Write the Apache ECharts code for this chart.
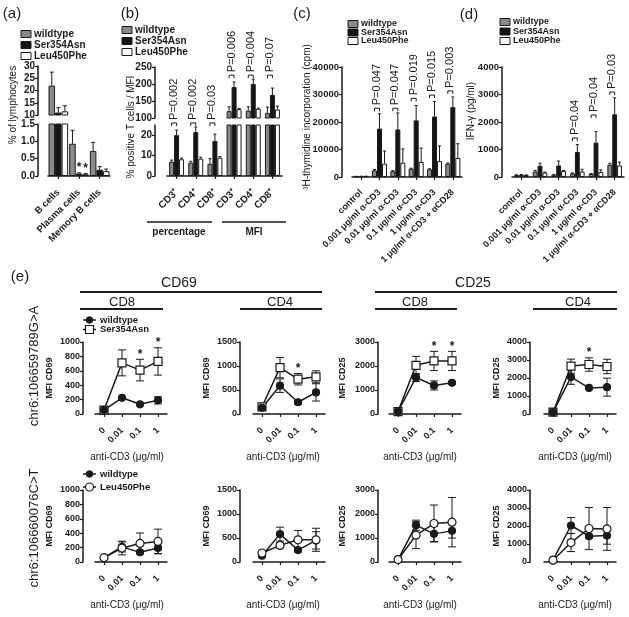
<!DOCTYPE html>
<html><head><meta charset="utf-8">
<script src="https://cdn.jsdelivr.net/npm/echarts@6/dist/echarts.min.js"></script>
<style>html,body{margin:0;padding:0;background:#fff}#c{width:629px;height:617px}</style>
</head><body><div id="c"></div>
<script>
// ---------- DATA ----------
const NAMES = ['wildtype', 'Ser354Asn', 'Leu450Phe'];
// (a)
const aCats = ['B cells', 'Plasma cells', 'Memory B cells'];
const aWt = [22, 0.93, 0.72],  aWtTop = [27.5, 1.32, 0.97];
const aSer = [11, 0.07, 0.18], aSerTop = [13, 0.09, 0.27];
const aLeu = [11.5, 0.05, 0.14], aLeuTop = [13.8, 0.07, 0.2];
// (b)
const bCats = ['CD3⁺', 'CD4⁺', 'CD8⁺', 'CD3⁺', 'CD4⁺', 'CD8⁺'];
const bWt = [7, 6.5, 6, 120, 122, 115],    bWtTop = [7.8, 7.2, 8.5, 133, 133, 132];
const bSer = [20, 21.5, 17.2, 191, 200, 168], bSerTop = [22.5, 24, 20.5, 206, 214, 188];
const bLeu = [8.2, 8.5, 9, 126, 127, 125], bLeuTop = [8.8, 9.2, 9.5, 128, 129, 135];
const bP = ['P=0.002', 'P=0.002', 'P=0.03', 'P=0.006', 'P=0.004', 'P=0.07'];
const bPY = [26, 26, 26, 226, 226, 226];
// (c)
const cdCats = ['control', '0.001 μg/ml α-CD3', '0.01 μg/ml α-CD3', '0.1 μg/ml α-CD3', '1 μg/ml α-CD3', '1 μg/ml α-CD3 + αCD28'];
const cWt = [250, 2400, 2100, 3000, 2800, 4850],      cWtTop = [250, 2700, 2300, 3200, 3000, 5100];
const cSer = [300, 17600, 17300, 20600, 22000, 25400], cSerTop = [300, 23000, 23300, 26000, 27500, 29100];
const cLeu = [300, 4850, 5200, 5450, 5800, 6900],     cLeuTop = [300, 9450, 10200, 10500, 11300, 12100];
const cPIdx = [1, 2, 3, 4, 5];
const cP = ['P=0.047', 'P=0.047', 'P=0.019', 'P=0.015', 'P=0.003'];
const cPY = [25000, 25000, 28600, 29800, 31300];
// (d)
const dWt = [70, 200, 85, 130, 110, 450],      dWtTop = [80, 240, 95, 150, 125, 500];
const dSer = [80, 410, 420, 910, 1250, 2280],  dSerTop = [90, 500, 580, 1180, 1650, 2880];
const dLeu = [70, 160, 220, 200, 180, 420],    dLeuTop = [75, 180, 240, 280, 260, 540];
const dPIdx = [3, 4, 5];
const dP = ['P=0.04', 'P=0.04', 'P=0.03'];
const dPY = [1420, 2255, 3090];
// (e)
const eDose = ['0', '0.01', '0.1', '1'];
const eMax = [1000, 1500, 3000, 4000];
const eStep = [200, 500, 1000, 1000];
const eTitles = ['MFI CD69', 'MFI CD69', 'MFI CD25', 'MFI CD25'];
// top row: wildtype vs Ser354Asn (mean, sem)
const t1Wt = [55, 225, 135, 190],     t1WtE = [10, 15, 15, 50],   t1Mu = [55, 710, 610, 730],     t1MuE = [15, 180, 150, 190];
const t2Wt = [130, 590, 245, 450],    t2WtE = [20, 140, 40, 180], t2Mu = [150, 965, 725, 775],    t2MuE = [30, 210, 120, 125];
const t3Wt = [100, 1520, 1190, 1300], t3WtE = [20, 170, 190, 50], t3Mu = [100, 2030, 2210, 2210], t3MuE = [30, 370, 400, 400];
const t4Wt = [100, 2050, 1450, 1490], t4WtE = [30, 400, 50, 500], t4Mu = [100, 2660, 2750, 2640], t4MuE = [30, 390, 370, 400];
const tStars = [[2, 3], [2], [2, 3], [2]];
// bottom row: wildtype vs Leu450Phe
const b1Wt = [60, 210, 134, 195],     b1WtE = [5, 70, 20, 80],     b1Mu = [60, 194, 258, 286],     b1MuE = [5, 95, 145, 170];
const b2Wt = [131, 581, 249, 450],    b2WtE = [20, 145, 40, 180],  b2Mu = [187, 346, 463, 463],    b2MuE = [20, 50, 195, 240];
const b3Wt = [100, 1534, 1172, 1297], b3WtE = [20, 210, 320, 300], b3Mu = [100, 1116, 1604, 1660], b3MuE = [20, 560, 770, 1030];
const b4Wt = [100, 2028, 1432, 1470], b4WtE = [20, 440, 100, 480], b4Mu = [100, 1079, 1860, 1840], b4MuE = [20, 500, 1170, 1190];

// ---------- STYLE / HELPERS ----------
const FF = 'Liberation Sans, Arial, sans-serif';
const INK = '#1a1a1a';
const FILL = ['#8a8a8a', '#151515', '#ffffff'];
const option = {animation: false, backgroundColor: '#fff', grid: [], xAxis: [], yAxis: [], series: [], graphic: []};

const lab = (size, extra) => Object.assign({color: INK, fontFamily: FF, fontWeight: 'bold', fontSize: size, margin: 3, formatter: v => String(v)}, extra || {});
function axisBase() {
  return {
    axisLine: {show: true, lineStyle: {color: INK, width: 1.5}},
    axisTick: {show: true, length: 3, lineStyle: {color: INK, width: 1.2}},
    splitLine: {show: false}
  };
}
function addGrid(rect, xCfg, yCfg) {
  const gi = option.grid.length;
  option.grid.push(Object.assign({show: false}, rect));
  const xb = axisBase(); xb.axisTick.alignWithLabel = true;
  option.xAxis.push(Object.assign(xb, {gridIndex: gi, type: 'category'}, xCfg));
  option.yAxis.push(Object.assign(axisBase(), {gridIndex: gi, type: 'value'}, yCfg));
  return gi;
}
function barErr(gi, vals, tops, pos, gap) {
  return {type: 'custom', xAxisIndex: gi, yAxisIndex: gi, clip: true, silent: true, z: 3,
    data: vals.map((v, i) => [i, v, tops[i]]),
    renderItem(params, api) {
      const i = api.value(0), v = api.value(1), t = api.value(2);
      const w = api.size([1, 0])[0] * (1 - gap) / 3;
      const p = api.coord([i, v]), q = api.coord([i, t]);
      const x = p[0] + pos * w, cap = Math.max(1.5, w * 0.3);
      return {type: 'group', children: [
        {type: 'line', shape: {x1: x, y1: p[1], x2: x, y2: q[1]}, style: {stroke: INK, lineWidth: 1}},
        {type: 'line', shape: {x1: x - cap, y1: q[1], x2: x + cap, y2: q[1]}, style: {stroke: INK, lineWidth: 1}}]};
    }};
}
function barGroup(gi, vals, tops, gap) {
  vals.forEach((v, k) => {
    option.series.push({type: 'bar', name: NAMES[k], xAxisIndex: gi, yAxisIndex: gi, data: v,
      barGap: '0%', barCategoryGap: (gap * 100) + '%', clip: true, silent: true,
      itemStyle: {color: FILL[k], borderColor: INK, borderWidth: 1}});
  });
  tops.forEach((t, k) => option.series.push(barErr(gi, vals[k], t, k - 1, gap)));
}
function pSeries(gi, idx, ys, texts, gap, fs) {
  return {type: 'custom', xAxisIndex: gi, yAxisIndex: gi, silent: true, z: 5,
    data: idx.map((c, k) => [c, ys[k], k]),
    renderItem(params, api) {
      const c = api.value(0), yv = api.value(1), k = api.value(2);
      const w = api.size([1, 0])[0] * (1 - gap) / 3;
      const p = api.coord([c, yv]);
      const xw = p[0] - w, xs = p[0], y = p[1];
      return {type: 'group', children: [
        {type: 'polyline', shape: {points: [[xw, y + 3], [xw, y], [xs, y], [xs, y + 3]]}, style: {stroke: INK, lineWidth: 1, fill: null}},
        {type: 'text', x: (xw + xs) / 2, y: y - 3, rotation: Math.PI / 2,
          style: {text: texts[k], align: 'left', textAlign: 'left', verticalAlign: 'middle', textVerticalAlign: 'middle',
            fontSize: fs, fontFamily: FF, fill: INK}}]};
    }};
}
function starSeries(gi, pts, gap) {
  return {type: 'custom', xAxisIndex: gi, yAxisIndex: gi, silent: true, z: 6,
    data: pts,
    renderItem(params, api) {
      const i = api.value(0), t = api.value(1), pos = api.value(2);
      const w = api.size([1, 0])[0] * (1 - gap) / 3;
      const p = api.coord([i, t]);
      return {type: 'text', x: p[0] + pos * w, y: p[1] - 5,
        style: {text: '*', align: 'center', textAlign: 'center', verticalAlign: 'middle', textVerticalAlign: 'middle',
          fontSize: 12, fontWeight: 'bold', fontFamily: FF, fill: INK}};
    }};
}
function lineErr(gi, vals, errs) {
  return {type: 'custom', xAxisIndex: gi, yAxisIndex: gi, silent: true, z: 3,
    data: vals.map((v, i) => [i, v, errs[i]]),
    renderItem(params, api) {
      const i = api.value(0), v = api.value(1), e = api.value(2);
      const p = api.coord([i, v + e]), q = api.coord([i, v - e]), x = p[0], h = 4;
      return {type: 'group', children: [
        {type: 'line', shape: {x1: x, y1: p[1], x2: x, y2: q[1]}, style: {stroke: INK, lineWidth: 1}},
        {type: 'line', shape: {x1: x - h, y1: p[1], x2: x + h, y2: p[1]}, style: {stroke: INK, lineWidth: 1}},
        {type: 'line', shape: {x1: x - h, y1: q[1], x2: x + h, y2: q[1]}, style: {stroke: INK, lineWidth: 1}}]};
    }};
}
function lineS(gi, vals, name, sym, filled) {
  return {type: 'line', name, xAxisIndex: gi, yAxisIndex: gi, data: vals, silent: true, z: 4,
    symbol: sym, symbolSize: filled ? 7 : 8,
    lineStyle: {color: INK, width: 1.5},
    itemStyle: {color: filled ? INK : '#fff', borderColor: INK, borderWidth: 1.2}};
}
// graphic helpers
function T(x, y, text, size, o) {
  o = o || {};
  const al = o.align || 'center';
  option.graphic.push({type: 'text', x, y, rotation: o.rot || 0, silent: true,
    style: {text, fontSize: size, fontFamily: FF, fontWeight: o.bold ? 'bold' : 'normal', fill: INK,
      align: al, textAlign: al, verticalAlign: 'middle', textVerticalAlign: 'middle'}});
}
function L(x1, y1, x2, y2, w) {
  option.graphic.push({type: 'line', silent: true, shape: {x1, y1, x2, y2}, style: {stroke: INK, lineWidth: w || 1.5}});
}
function barLegend(x, ys, size) {
  ys.forEach((y, k) => {
    option.graphic.push({type: 'rect', silent: true, shape: {x: x, y: y - 3.5, width: 10, height: 7},
      style: {fill: FILL[k], stroke: INK, lineWidth: 1}});
    T(x + 13, y, NAMES[k], size, {align: 'left', bold: true});
  });
}

// ---------- PANEL (a) ----------
const aGap = 0.05;
const gAu = addGrid({left: 48, top: 66, width: 62, height: 49}, {data: aCats, show: false},
  {min: 10, max: 30, interval: 5, offset: 10, axisLabel: lab(10)});
const gAl = addGrid({left: 48, top: 124, width: 62, height: 52},
  {data: aCats, offset: 11, axisLabel: lab(9.5, {rotate: 45, interval: 0, margin: 4})},
  {min: 0, max: 1.5, interval: 0.5, offset: 10, axisLabel: lab(10, {formatter: v => v.toFixed(1)})});
[gAu, gAl].forEach(g => barGroup(g, [aWt, aSer, aLeu], [aWtTop, aSerTop, aLeuTop], aGap));
option.series.push(starSeries(gAl, [[1, aSerTop[1], 0], [1, aLeuTop[1], 1]], aGap));

// ---------- PANEL (b) ----------
const bGap = 0.22;
const gBu = addGrid({left: 167, top: 67, width: 115, height: 51}, {data: bCats, show: false},
  {min: 100, max: 250, interval: 50, offset: 12, axisLabel: lab(10)});
const gBl = addGrid({left: 167, top: 125, width: 115, height: 51},
  {data: bCats, offset: 11, axisLabel: lab(10, {rotate: 45, interval: 0, margin: 4})},
  {min: 0, max: 25, interval: 10, offset: 12,
    axisLabel: lab(10, {customValues: [0, 10, 20]}),
    axisTick: {show: true, length: 3, lineStyle: {color: INK, width: 1.2}, customValues: [0, 10, 20]}});
[gBu, gBl].forEach(g => barGroup(g, [bWt, bSer, bLeu], [bWtTop, bSerTop, bLeuTop], bGap));
option.series.push(pSeries(gBl, [0, 1, 2], bPY.slice(0, 3), bP.slice(0, 3), bGap, 11));
option.series.push(pSeries(gBu, [3, 4, 5], bPY.slice(3), bP.slice(3), bGap, 11));

// ---------- PANEL (c) ----------
const cGap = 0.18;
const gC = addGrid({left: 352, top: 67, width: 110, height: 110},
  {data: cdCats, offset: 10, axisLabel: lab(9, {rotate: 45, interval: 0, margin: 4})},
  {min: 0, max: 40000, interval: 10000, offset: 10, axisLabel: lab(9.5)});
barGroup(gC, [cWt, cSer, cLeu], [cWtTop, cSerTop, cLeuTop], cGap);
option.series.push(pSeries(gC, cPIdx, cPY, cP, cGap, 11));

// ---------- PANEL (d) ----------
const dGap = 0.22;
const gD = addGrid({left: 512, top: 67, width: 112, height: 110},
  {data: cdCats, offset: 10, axisLabel: lab(9, {rotate: 45, interval: 0, margin: 4})},
  {min: 0, max: 4000, interval: 1000, offset: 10, axisLabel: lab(9.5)});
barGroup(gD, [dWt, dSer, dLeu], [dWtTop, dSerTop, dLeuTop], dGap);
option.series.push(pSeries(gD, dPIdx, dPY, dP, dGap, 11));

// ---------- PANEL (e) ----------
const eLefts = [95, 253, 389, 544];
const eYOff = [12, 13, 11, 14];
const topSets = [[t1Wt, t1WtE, t1Mu, t1MuE], [t2Wt, t2WtE, t2Mu, t2MuE], [t3Wt, t3WtE, t3Mu, t3MuE], [t4Wt, t4WtE, t4Mu, t4MuE]];
const botSets = [[b1Wt, b1WtE, b1Mu, b1MuE], [b2Wt, b2WtE, b2Mu, b2MuE], [b3Wt, b3WtE, b3Mu, b3MuE], [b4Wt, b4WtE, b4Mu, b4MuE]];
[[342, topSets, 'top'], [490, botSets, 'bot']].forEach(([top, sets, row]) => {
  sets.forEach((s, p) => {
    const g = addGrid({left: eLefts[p], top, width: 72, height: 72},
      {data: eDose, offset: 11, axisLabel: lab(9, {rotate: 45, interval: 0, margin: 4})},
      {min: 0, max: eMax[p], interval: eStep[p], offset: eYOff[p], axisLabel: lab(9)});
    const [wt, wtE, mu, muE] = s;
    option.series.push(lineErr(g, wt, wtE));
    option.series.push(lineErr(g, mu, muE));
    if (row === 'top') {
      option.series.push(lineS(g, mu, 'Ser354Asn', 'rect', false));
      option.series.push(lineS(g, wt, 'wildtype', 'circle', true));
      option.series.push(starSeries(g, tStars[p].map(i => [i, mu[i] + muE[i], 0]), 0));
    } else {
      option.series.push(lineS(g, wt, 'wildtype', 'circle', true));
      option.series.push(lineS(g, mu, 'Leu450Phe', 'circle', false));
    }
  });
});

// ---------- TEXT / DECORATION ----------
T(12, 14, '(a)', 15); T(130, 14, '(b)', 15); T(302, 14, '(c)', 15); T(469, 15, '(d)', 15); T(20, 277, '(e)', 15);
barLegend(21, [34, 45, 56], 10);
barLegend(122, [30, 41, 52], 10);
barLegend(348, [24, 32.5, 41], 9);
barLegend(500, [22, 31.5, 41], 9);
T(13, 105, '% of lymphocytes', 10, {rot: Math.PI / 2});
T(131, 127, '% positive T cells / MFI', 10, {rot: Math.PI / 2});
T(307, 117, '³H-thymidine incorporation (cpm)', 10, {rot: Math.PI / 2});
T(471, 111, 'IFN-γ (pg/ml)', 10, {rot: Math.PI / 2});
L(147, 222, 212, 222); L(222, 222, 286, 222);
T(179, 232, 'percentage', 10, {bold: true}); T(254, 232, 'MFI', 10, {bold: true});
// (e) headers
T(179, 283, 'CD69', 14); T(473, 283, 'CD25', 14);
L(80, 292, 322, 292, 2); L(375, 292, 617, 292, 2);
T(122, 302, 'CD8', 13); T(280, 302, 'CD4', 13); T(415, 302, 'CD8', 13); T(578, 302, 'CD4', 13);
L(80, 309, 163, 309, 2); L(240, 309, 322, 309, 2); L(375, 309, 457, 309, 2); L(533, 309, 617, 309, 2);
T(34, 366, 'chr6:106659789G>A', 13, {rot: Math.PI / 2});
T(34, 528, 'chr6:106660076C>T', 13, {rot: Math.PI / 2});
const eTitleX = [50, 207, 343, 497], eAntiX = [127, 283, 420, 575];
eTitleX.forEach((x, p) => { T(x, 378, eTitles[p], 9, {rot: Math.PI / 2, bold: true}); T(x, 526, eTitles[p], 9, {rot: Math.PI / 2, bold: true}); });
eAntiX.forEach(x => { T(x, 457, 'anti-CD3 (μg/ml)', 10); T(x, 605, 'anti-CD3 (μg/ml)', 10); });
// (e) legends
function lineLegend(y, label, kind) {
  L(83, y, 96, y, 1.5);
  if (kind === 'dot') option.graphic.push({type: 'circle', silent: true, shape: {cx: 89.5, cy: y, r: 3.3}, style: {fill: INK, stroke: INK}});
  if (kind === 'sq') option.graphic.push({type: 'rect', silent: true, shape: {x: 85.5, y: y - 4, width: 8, height: 8}, style: {fill: '#fff', stroke: INK, lineWidth: 1.2}});
  if (kind === 'ring') option.graphic.push({type: 'circle', silent: true, shape: {cx: 89.5, cy: y, r: 4}, style: {fill: '#fff', stroke: INK, lineWidth: 1.2}});
  T(100, y, label, 9.5, {align: 'left', bold: true});
}
lineLegend(320, 'wildtype', 'dot'); lineLegend(329.5, 'Ser354Asn', 'sq');
lineLegend(474, 'wildtype', 'dot'); lineLegend(487, 'Leu450Phe', 'ring');

const chart = echarts.init(document.getElementById('c'), null, {renderer: 'canvas'});
chart.setOption(option);
</script></body></html>
